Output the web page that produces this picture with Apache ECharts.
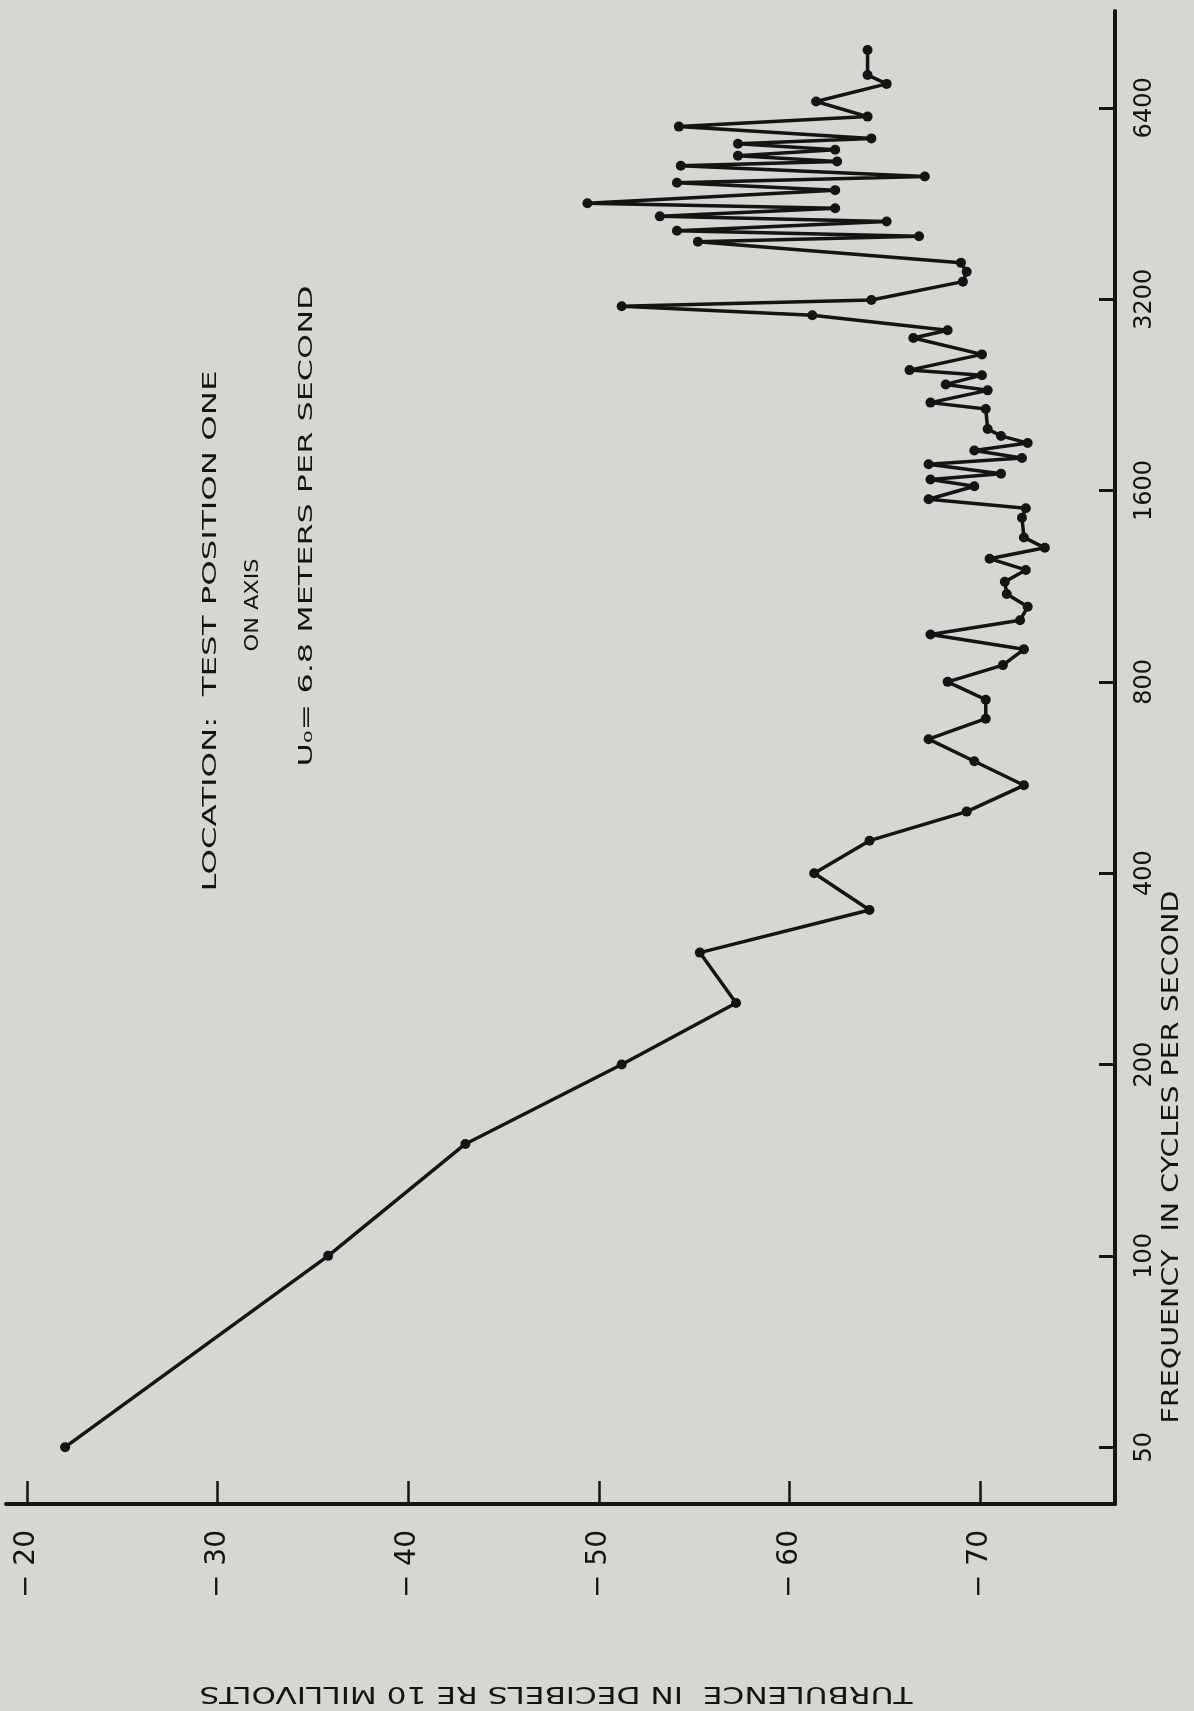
<!DOCTYPE html>
<html>
<head>
<meta charset="utf-8">
<title>Turbulence spectrum</title>
<script src="https://cdn.jsdelivr.net/npm/echarts@6/dist/echarts.min.js"></script>
<style>
  html, body { margin: 0; padding: 0; background: #d6d7d3; }
  #chart { width: 1194px; height: 1711px; }
</style>
</head>
<body>
<div id="chart"></div>
<script>
// frequency in cycles per second
const freq = [50, 100, 150, 200, 250, 300, 350, 400, 450, 500,
  550, 600, 650, 700, 750, 800, 850, 900, 950, 1000,
  1050, 1100, 1150, 1200, 1250, 1300, 1350, 1450, 1500, 1550,
  1625, 1665, 1700, 1760, 1800, 1850, 1900, 1950, 2000, 2150,
  2200, 2300, 2350, 2430, 2475, 2620, 2780, 2860, 3020, 3120,
  3190, 3410, 3535, 3650, 3940, 4020, 4100, 4240, 4320, 4450,
  4530, 4750, 4880, 4990, 5190, 5270, 5380, 5500, 5620, 5730,
  5980, 6200, 6550, 6980, 7210, 7890]
// turbulence level in dB re 10 millivolts
const db = [-22.0, -35.8, -43.0, -51.2, -57.2, -55.3, -64.2, -61.3, -64.2, -69.3,
  -72.3, -69.7, -67.3, -70.3, -70.3, -68.3, -71.2, -72.3, -67.4, -72.1,
  -72.5, -71.4, -71.3, -72.4, -70.5, -73.4, -72.3, -72.2, -72.4, -67.3,
  -69.7, -67.4, -71.1, -67.3, -72.2, -69.7, -72.5, -71.1, -70.4, -70.3,
  -67.4, -70.4, -68.2, -70.1, -66.3, -70.1, -66.5, -68.3, -61.2, -51.2,
  -64.3, -69.1, -69.3, -69.0, -55.2, -66.8, -54.1, -65.1, -53.2, -62.4,
  -49.4, -62.4, -54.1, -67.1, -54.3, -62.5, -57.3, -62.4, -57.3, -64.3,
  -54.2, -64.1, -61.4, -65.1, -64.1, -64.1]

const dbTicks = [-20, -30, -40, -50, -60, -70]
const freqTicks = [50, 100, 200, 400, 800, 1600, 3200, 6400]

const ink = '#141414'
const fontFamily = '"DejaVu Sans", sans-serif'

// text width, used to stretch the hand lettering to its length on the sheet
const measureCtx = document.createElement('canvas').getContext('2d')
function textWidth(str, size) {
  measureCtx.font = size + 'px "DejaVu Sans"'
  return measureCtx.measureText(str).width
}

// rotated lettering: text, centre, length along the reading direction, font size, angle
function lettering(str, cx, cy, len, size, rotation) {
  return {
    type: 'text',
    x: cx,
    y: cy,
    rotation: rotation,
    scaleX: len / textWidth(str, size),
    silent: true,
    style: {
      text: str,
      x: 0,
      y: 0,
      fontSize: size,
      fontFamily: fontFamily,
      fill: ink,
      align: 'center',
      verticalAlign: 'middle',
      textAlign: 'center',
      textVerticalAlign: 'middle'
    }
  }
}

let myChart = echarts.init(document.getElementById('chart'))

let option = {
  backgroundColor: '#d6d7d3',
  animation: false,
  grid: { left: 6, right: 79, top: 11, bottom: 207 },
  xAxis: {
    type: 'value',
    inverse: true,
    min: -77.08, // where the frequency axis crosses
    max: -18.9,
    axisLine: { show: true, onZero: false, lineStyle: { color: ink, width: 4 } },
    axisTick: { show: true, inside: true, length: 23, customValues: dbTicks,
      lineStyle: { color: ink, width: 2.5 } },
    axisLabel: {
      customValues: dbTicks,
      rotate: 90,
      margin: 26,
      fontSize: 28,
      fontFamily: fontFamily,
      color: ink,
      formatter: v => '\u2212 ' + Math.abs(Math.round(v))
    },
    splitLine: { show: false }
  },
  yAxis: {
    type: 'log',
    logBase: 2,
    position: 'right',
    min: 40.7,
    max: 9090,
    axisLine: { show: true, onZero: false, lineStyle: { color: ink, width: 4 } },
    axisTick: { show: true, inside: true, length: 16, customValues: freqTicks,
      lineStyle: { color: ink, width: 3 } },
    axisLabel: {
      customValues: freqTicks,
      rotate: 90,
      margin: 18,
      fontSize: 24,
      fontFamily: fontFamily,
      color: ink,
      formatter: v => String(Math.round(v))
    },
    splitLine: { show: false }
  },
  series: [{
    type: 'line',
    data: freq.map((f, i) => [db[i], f]),
    symbol: 'circle',
    symbolSize: 10,
    showSymbol: true,
    clip: false,
    itemStyle: { color: ink },
    lineStyle: { color: ink, width: 3.5 }
  }],
  graphic: [
    lettering('LOCATION:  TEST POSITION ONE', 211, 631, 521, 20, Math.PI / 2),
    lettering('ON AXIS', 253, 605, 93, 20, Math.PI / 2),
    lettering('U\u2080= 6.8 METERS PER SECOND', 307, 526, 481, 20, Math.PI / 2),
    lettering('FREQUENCY  IN CYCLES PER SECOND', 1172, 1157, 533, 23, Math.PI / 2),
    lettering('TURBULENCE  IN DECIBELS RE 10 MILLIVOLTS', 556, 1693, 713, 23, Math.PI)
  ]
}

myChart.setOption(option)
</script>
</body>
</html>
